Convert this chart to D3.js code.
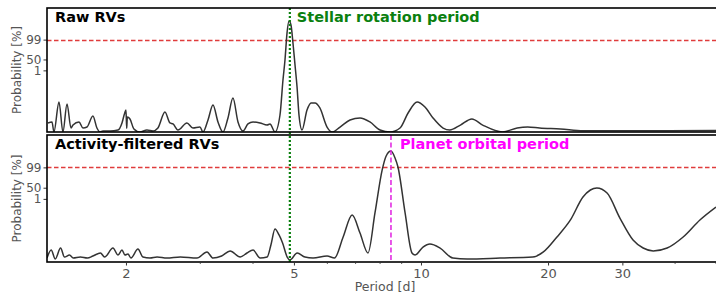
<!DOCTYPE html>
<html>
<head>
<meta charset="UTF-8">
<title>GLS periodograms</title>
<script src="https://cdn.jsdelivr.net/npm/d3@7"></script>
<style>
  body { margin: 0; background: #fff; }
  svg { display: block; font-family: "DejaVu Sans", sans-serif; }
</style>
</head>
<body>
<svg width="716" height="297"></svg>
<script>
// periodogram of the raw RVs (period in days, normalised power)
var rawPeriod = [1.307,1.336,1.350,1.388,1.418,1.450,1.482,1.498,1.548,1.582,1.617,1.670,1.707,1.736,1.764,1.834,1.915,1.957,1.985,2.000,2.008,2.015,2.044,2.089,2.158,2.243,2.318,2.381,2.474,2.542,2.585,2.656,2.789,2.882,2.994,3.045,3.129,3.215,3.304,3.395,3.489,3.585,3.685,3.787,3.891,4.000,4.156,4.318,4.388,4.510,4.634,4.710,4.762,4.815,4.868,4.920,4.974,5.030,5.086,5.140,5.225,5.370,5.489,5.610,5.760,5.990,6.155,6.430,6.790,7.170,7.570,8.000,8.450,8.920,9.320,9.790,10.22,10.68,11.28,11.70,12.40,13.20,14.00,15.60,16.90,17.90,19.10,21.40,24.20,26.60,32.10,38.30,50.0];
var rawPower  = [0.073,0.081,0.000,0.242,0.000,0.226,0.032,0.056,0.081,0.032,0.040,0.129,0.032,0.000,0.008,0.008,0.016,0.073,0.150,0.177,0.030,0.120,0.105,0.024,0.000,0.016,0.008,0.032,0.161,0.073,0.065,0.016,0.073,0.032,0.040,0.000,0.097,0.218,0.081,0.000,0.113,0.274,0.081,0.008,0.065,0.081,0.073,0.056,0.065,0.000,0.137,0.419,0.581,0.798,0.895,0.863,0.718,0.540,0.363,0.137,0.016,0.177,0.234,0.234,0.194,0.040,0.000,0.040,0.097,0.113,0.081,0.016,0.000,0.032,0.153,0.242,0.202,0.113,0.032,0.016,0.056,0.105,0.056,0.000,0.032,0.040,0.032,0.024,0.010,0.010,0.010,0.010,0.012];

// periodogram of the activity-filtered RVs
var filtPeriod = [1.30,1.33,1.36,1.40,1.43,1.47,1.50,1.56,1.62,1.67,1.74,1.78,1.863,1.915,1.957,1.989,2.022,2.055,2.135,2.194,2.28,2.37,2.50,2.69,2.946,3.112,3.215,3.37,3.53,3.73,3.87,4.00,4.16,4.32,4.41,4.51,4.61,4.70,4.82,4.89,5.09,5.31,5.55,5.99,6.24,6.54,6.87,7.17,7.49,7.78,8.09,8.27,8.49,8.68,8.82,9.17,9.52,9.68,10.11,10.5,11.1,11.9,12.86,15.4,18.4,19.5,21.0,22.6,24.2,25.2,26.1,27.6,29.6,31.8,33.6,35.5,38.3,41.8,45.8,50.0];
var filtPower  = [0.031,0.094,0.024,0.110,0.039,0.055,0.031,0.039,0.031,0.047,0.071,0.039,0.110,0.055,0.094,0.055,0.063,0.031,0.102,0.039,0.031,0.039,0.031,0.039,0.031,0.079,0.031,0.047,0.087,0.039,0.071,0.094,0.031,0.039,0.134,0.260,0.213,0.150,0.039,0.016,0.071,0.039,0.031,0.047,0.031,0.197,0.370,0.228,0.071,0.386,0.724,0.835,0.874,0.819,0.748,0.386,0.071,0.055,0.118,0.142,0.110,0.031,0.024,0.031,0.039,0.079,0.197,0.331,0.512,0.567,0.583,0.543,0.346,0.173,0.110,0.087,0.110,0.197,0.331,0.433];

// false-alarm probability levels and their labels
var fapLevels = [0.745, 0.585, 0.497];
var fapLabels = ["99", "50", "1"];
var xTicks = [2, 5, 10, 20, 30];
var xMinor = [3, 4, 6, 7, 8, 9, 40, 50];
var rotationPeriod = 4.89;
var planetPeriod = 8.49;

var svg = d3.select("svg");
var left = 47, right = 720;

var x = d3.scaleLog().domain([1.3, 50]).range([left, 716]);

var panels = [
  {top: 8, bottom: 132, title: "Raw RVs", period: rawPeriod, power: rawPower},
  {top: 135, bottom: 262, title: "Activity-filtered RVs", period: filtPeriod, power: filtPower}
];

var grey = "#555";

panels.forEach(function(p, i) {
  var y = d3.scaleLinear().domain([0, 1]).range([p.bottom, p.top]);
  var g = svg.append("g");

  g.append("clipPath").attr("id", "clip" + i)
    .append("rect").attr("x", left).attr("y", p.top)
    .attr("width", right - left).attr("height", p.bottom - p.top);

  // 99 % level
  var fy = Math.round(y(fapLevels[0])) + 0.5;
  g.append("line")
    .attr("x1", left).attr("x2", right)
    .attr("y1", fy).attr("y2", fy)
    .attr("stroke", "#e03c3c").attr("stroke-width", 1.3)
    .attr("stroke-dasharray", "4.5,2.5");

  var pts = p.period.map(function(d, j) { return [d, p.power[j]]; });
  var line = d3.line()
    .x(function(d) { return x(d[0]); })
    .y(function(d) { return y(d[1]); })
    .curve(d3.curveMonotoneX);

  g.append("path")
    .attr("d", line(pts))
    .attr("clip-path", "url(#clip" + i + ")")
    .attr("fill", "none")
    .attr("stroke", "#333")
    .attr("stroke-width", 1.5);

  // y axis ticks
  var yAxis = d3.axisLeft(y).tickValues(fapLevels)
    .tickFormat(function(d, j) { return fapLabels[j]; })
    .tickSize(3.5).tickPadding(2);
  var ya = g.append("g").attr("transform", "translate(" + left + ",0)").call(yAxis);
  ya.select(".domain").remove();
  ya.selectAll("line").attr("stroke", "#333");
  ya.selectAll("text").attr("fill", grey).style("font-size", "12px")
    .style("font-family", "DejaVu Sans");

  g.append("text")
    .attr("transform", "translate(21," + ((p.top + p.bottom) / 2) + ") rotate(-90)")
    .attr("text-anchor", "middle")
    .attr("fill", grey)
    .style("font-size", "12px")
    .text("Probability [%]");

  g.append("text")
    .attr("x", 55).attr("y", p.top + 14)
    .style("font-size", "14.5px").style("font-weight", "bold")
    .attr("fill", "#000")
    .text(p.title);
});

// stellar rotation marker across both panels
svg.append("line")
  .attr("x1", x(rotationPeriod)).attr("x2", x(rotationPeriod))
  .attr("y1", panels[0].top).attr("y2", panels[1].bottom)
  .attr("stroke", "#0b800f").attr("stroke-width", 2.2)
  .attr("stroke-dasharray", "2,2");
svg.append("text")
  .attr("x", x(rotationPeriod) + 7).attr("y", panels[0].top + 14)
  .attr("fill", "#0b800f")
  .style("font-size", "14.5px").style("font-weight", "bold")
  .text("Stellar rotation period");

// planet marker in lower panel
svg.append("line")
  .attr("x1", x(planetPeriod)).attr("x2", x(planetPeriod))
  .attr("y1", panels[1].top).attr("y2", panels[1].bottom)
  .attr("stroke", "#e020e0").attr("stroke-width", 1.5)
  .attr("stroke-dasharray", "5,2.5");
svg.append("text")
  .attr("x", x(planetPeriod) + 9).attr("y", panels[1].top + 14)
  .attr("fill", "#ff00ff")
  .style("font-size", "14.5px").style("font-weight", "bold")
  .text("Planet orbital period");

// frames
panels.forEach(function(p) {
  svg.append("rect")
    .attr("x", left).attr("y", p.top)
    .attr("width", right - left + 10).attr("height", p.bottom - p.top)
    .attr("fill", "none").attr("stroke", "#000").attr("stroke-width", 1.6);
});

// x axis
var bottom = panels[1].bottom;
var xAxis = d3.axisBottom(x).tickValues(xTicks).tickFormat(d3.format("d"))
  .tickSize(3.5).tickPadding(3);
var xa = svg.append("g").attr("transform", "translate(0," + bottom + ")").call(xAxis);
xa.select(".domain").remove();
xa.selectAll("line").attr("stroke", "#333");
xa.selectAll("text").attr("fill", grey).style("font-size", "13px")
  .style("font-family", "DejaVu Sans");

svg.append("g").selectAll("line").data(xMinor).enter().append("line")
  .attr("x1", function(d) { return x(d); }).attr("x2", function(d) { return x(d); })
  .attr("y1", bottom).attr("y2", bottom + 2)
  .attr("stroke", "#333").attr("stroke-width", 0.8);

svg.append("text")
  .attr("x", 385).attr("y", 291)
  .attr("text-anchor", "middle")
  .attr("fill", grey)
  .style("font-size", "12.5px")
  .text("Period [d]");
</script>
</body>
</html>
